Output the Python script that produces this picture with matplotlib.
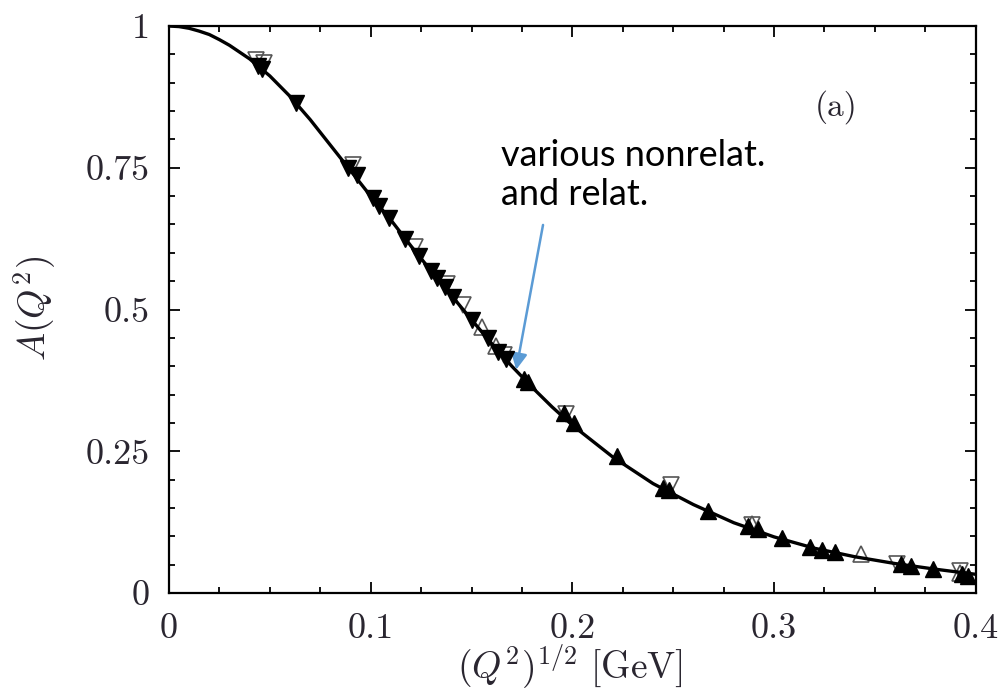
import matplotlib
matplotlib.use("Agg")
import matplotlib.pyplot as plt
from matplotlib.ticker import MultipleLocator, FixedLocator, FixedFormatter

plt.rcParams['mathtext.fontset'] = 'cm'

# Theory curve A(Q^2) vs (Q^2)^{1/2}
curve_q = [0.0, 0.005, 0.01, 0.015, 0.02, 0.025, 0.03, 0.04, 0.05, 0.06, 0.07, 0.08, 0.09, 0.10,
           0.11, 0.12, 0.13, 0.14, 0.15, 0.16, 0.17, 0.18, 0.19, 0.20, 0.22, 0.24, 0.26, 0.28,
           0.30, 0.32, 0.34, 0.36, 0.38, 0.40]
curve_a = [1.0, 0.999, 0.996, 0.991, 0.985, 0.976, 0.966, 0.942, 0.912, 0.876, 0.835, 0.790,
           0.745, 0.700, 0.658, 0.612, 0.568, 0.525, 0.482, 0.440, 0.400, 0.363, 0.328, 0.296,
           0.240, 0.193, 0.156, 0.124, 0.099, 0.079, 0.064, 0.052, 0.042, 0.033]

# Filled down triangles
dn_q = [0.044, 0.046, 0.063, 0.089, 0.093, 0.101, 0.104, 0.109, 0.117, 0.124, 0.130, 0.133,
        0.137, 0.141, 0.150, 0.158, 0.163, 0.167]
dn_a = [0.930, 0.925, 0.865, 0.750, 0.738, 0.697, 0.683, 0.662, 0.625, 0.595, 0.568, 0.555,
        0.540, 0.522, 0.482, 0.450, 0.425, 0.412]

# Open down triangles
odn_q = [0.043, 0.047, 0.091, 0.122, 0.138, 0.146, 0.166, 0.197, 0.249, 0.289, 0.361, 0.392]
odn_a = [0.940, 0.935, 0.755, 0.610, 0.545, 0.508, 0.420, 0.315, 0.190, 0.120, 0.052, 0.038]

# Open up triangles
oup_q = [0.155, 0.162, 0.289, 0.343, 0.392]
oup_a = [0.470, 0.435, 0.122, 0.068, 0.035]

# Filled up triangles
up_q = [0.176, 0.178, 0.196, 0.201, 0.222, 0.245, 0.248, 0.267, 0.287, 0.292, 0.304, 0.318,
        0.324, 0.330, 0.363, 0.368, 0.379, 0.393, 0.396]
up_a = [0.378, 0.372, 0.318, 0.300, 0.242, 0.186, 0.182, 0.145, 0.118, 0.113, 0.097, 0.082,
        0.075, 0.072, 0.052, 0.048, 0.042, 0.034, 0.030]

xticks = [0, 0.1, 0.2, 0.3, 0.4]
xticklabels = ["0", "0.1", "0.2", "0.3", "0.4"]
yticks = [0, 0.25, 0.5, 0.75, 1]
yticklabels = ["0", "0.25", "0.5", "0.75", "1"]

fig = plt.figure(figsize=(10.01, 6.94), dpi=100)
ax = fig.add_axes([0.1688, 0.1455, 0.806, 0.817])

ms = 11
ax.plot(odn_q, odn_a, linestyle='none', marker='v', ms=ms, mfc='none', mec='#555555', mew=1.2, zorder=2)
ax.plot(oup_q, oup_a, linestyle='none', marker='^', ms=ms, mfc='none', mec='#555555', mew=1.2, zorder=2)
ax.plot(curve_q, curve_a, color='black', lw=2.4, zorder=3)
ax.plot(dn_q, dn_a, linestyle='none', marker='v', ms=ms, color='black', zorder=4)
ax.plot(up_q, up_a, linestyle='none', marker='^', ms=ms, color='black', zorder=4)

ax.set_xlim(0, 0.4)
ax.set_ylim(0, 1)
ax.xaxis.set_major_locator(FixedLocator(xticks))
ax.xaxis.set_major_formatter(FixedFormatter(xticklabels))
ax.yaxis.set_major_locator(FixedLocator(yticks))
ax.yaxis.set_major_formatter(FixedFormatter(yticklabels))
ax.xaxis.set_minor_locator(MultipleLocator(0.025))
ax.yaxis.set_minor_locator(MultipleLocator(0.05))
ax.tick_params(which='both', direction='in', top=True, right=True, width=1.3, color='black')
ax.tick_params(which='major', length=8)
ax.tick_params(which='minor', length=4)
ax.tick_params(axis='x', which='major', pad=15)
ax.tick_params(axis='y', which='major', pad=14)
for lab in ax.get_xticklabels() + ax.get_yticklabels():
    lab.set_fontfamily('cmr10')
    lab.set_fontsize(26)
    lab.set_color('#2a2630')
for sp in ax.spines.values():
    sp.set_linewidth(1.6)

ax.set_xlabel(r'$(Q^2)^{1/2}\ [\mathrm{GeV}]$', fontsize=27, color='#2a2630')
ax.xaxis.set_label_coords(0.497, -0.088)
ax.set_ylabel(r'$A(Q^2)$', fontsize=27, color='#2a2630')
ax.yaxis.set_label_coords(-0.1375, 0.502)

ax.text(0.827, 0.857, '(a)', transform=ax.transAxes, fontsize=24, family='cmr10',
        color='#2a2630', ha='center', va='center')

ax.text(0.1647, 0.737, 'various nonrelat.\nand relat.', fontsize=26, family='Lato',
        color='black', ha='left', va='center', linespacing=1.2)
ax.annotate('', xy=(0.1719, 0.389), xytext=(0.1857, 0.654),
            arrowprops=dict(arrowstyle='-|>', color='#5B9BD5', lw=1.8, mutation_scale=24))

fig.savefig('out.png', dpi=100)
